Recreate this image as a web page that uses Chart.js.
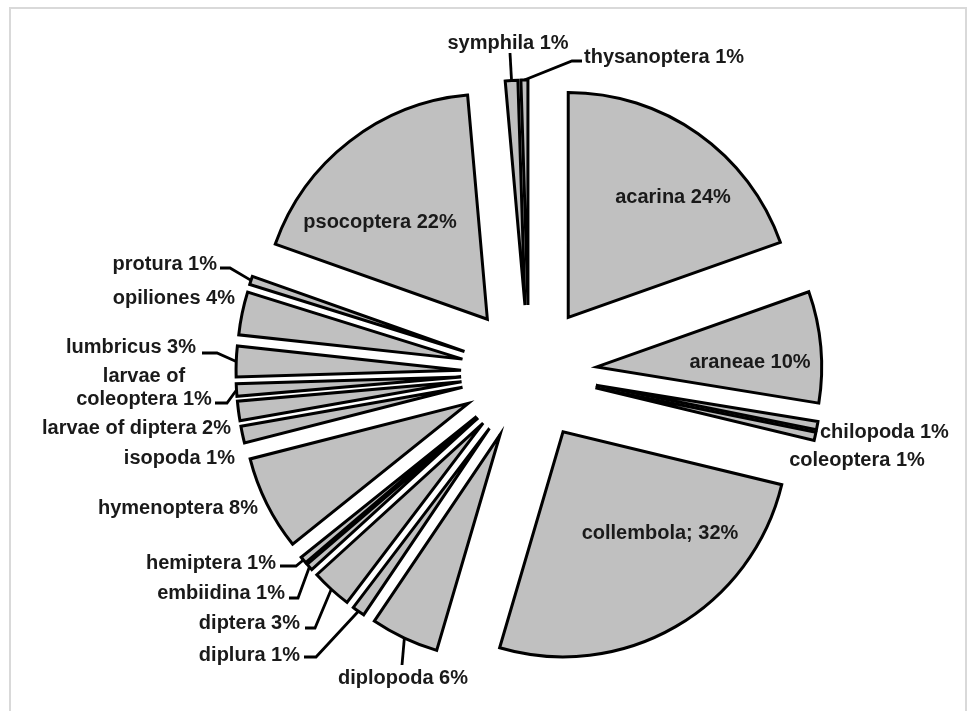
<!DOCTYPE html>
<html>
<head>
<meta charset="utf-8">
<title>Soil fauna</title>
<script src="https://cdn.jsdelivr.net/npm/chart.js@4.4.1/dist/chart.umd.min.js"></script>
<style>
  html, body { margin: 0; padding: 0; background: #fff; }
  #wrap { position: relative; width: 974px; height: 711px; overflow: hidden; }
  #frame { position: absolute; left: 9px; top: 7px; width: 958px; height: 720px;
           border: 2px solid #d9d9d9; box-sizing: border-box; pointer-events: none; }
</style>
</head>
<body>
<div id="wrap">
  <canvas id="pie" width="974" height="711"></canvas>
  <div id="frame"></div>
</div>
<script>
// groups, in the order they go round the pie (clockwise from the top)
const groups = ['acarina', 'araneae', 'chilopoda', 'coleoptera', 'collembola',
  'diplopoda', 'diplura', 'diptera', 'embiidina', 'hemiptera', 'hymenoptera',
  'isopoda', 'larvae of diptera', 'larvae of coleoptera', 'lumbricus',
  'opiliones', 'protura', 'psocoptera', 'symphila', 'thysanoptera'];

// size of each slice (share of the circle, %)
const sliceShare = [19.6, 8.0, 0.6, 0.6, 25.8, 4.9, 0.9, 2.9, 0.5, 0.5,
  6.8, 1.2, 1.4, 0.9, 2.2, 3.1, 0.6, 18.2, 0.9, 0.5];

// percentages as printed on the labels
const printedPct = [24, 10, 1, 1, 32, 6, 1, 3, 1, 1, 8, 1, 2, 1, 3, 4, 1, 22, 1, 1];

const EXPLODE = 68;     // distance every slice is pulled out
const FONT = 'bold 20px "Liberation Sans", Arial, sans-serif';

// where the labels sit (x, y, alignment) and the fixed part of leader lines
const labelLayout = {
  'acarina':              { x: 673, y: 197, align: 'center' },
  'araneae':              { x: 750, y: 362, align: 'center' },
  'chilopoda':            { x: 820, y: 432, align: 'left' },
  'coleoptera':           { x: 857, y: 460, align: 'center' },
  'collembola':           { x: 660, y: 533, align: 'center' },
  'diplopoda':            { x: 403, y: 678, align: 'center', leader: [[402, 665]] },
  'diplura':              { x: 300, y: 655, align: 'right', leader: [[304, 657], [316, 657]] },
  'diptera':              { x: 300, y: 623, align: 'right', leader: [[305, 628], [315, 628]] },
  'embiidina':            { x: 285, y: 593, align: 'right', leader: [[289, 598], [298, 598]] },
  'hemiptera':            { x: 276, y: 563, align: 'right', leader: [[280, 566], [296, 566]] },
  'hymenoptera':          { x: 258, y: 508, align: 'right' },
  'isopoda':              { x: 235, y: 458, align: 'right' },
  'larvae of diptera':    { x: 231, y: 428, align: 'right' },
  'larvae of coleoptera': { x: 144, y: 376, align: 'center', leader: [[215, 403], [227, 403]] },
  'lumbricus':            { x: 196, y: 347, align: 'right', leader: [[202, 353], [217, 353]] },
  'opiliones':            { x: 235, y: 298, align: 'right' },
  'protura':              { x: 217, y: 264, align: 'right', leader: [[220, 268], [230, 268]] },
  'psocoptera':           { x: 380, y: 222, align: 'center' },
  'symphila':             { x: 508, y: 43, align: 'center', leader: [[510, 53]] },
  'thysanoptera':         { x: 584, y: 57, align: 'left', leader: [[582, 61], [572, 61]] }
};

function labelText(i) {
  const name = groups[i] === 'larvae of coleoptera' ? 'larvae of\ncoleoptera' : groups[i];
  const sep = groups[i] === 'collembola' ? '; ' : ' ';
  return name + sep + printedPct[i] + '%';
}

// pull every slice out along its middle angle (same distance for all)
const explodePlugin = {
  id: 'explode',
  beforeDatasetDraw(chart, args) {
    const ctx = chart.ctx;
    args.meta.data.forEach(arc => {
      const mid = (arc.startAngle + arc.endAngle) / 2;
      ctx.save();
      ctx.translate(Math.cos(mid) * EXPLODE, Math.sin(mid) * EXPLODE);
      arc.draw(ctx);
      ctx.restore();
    });
    return false;
  }
};

// labels and leader lines
const labelPlugin = {
  id: 'sliceLabels',
  afterDatasetsDraw(chart) {
    const ctx = chart.ctx;
    const arcs = chart.getDatasetMeta(0).data;
    ctx.save();
    ctx.font = FONT;
    ctx.fillStyle = '#1a1a1a';
    ctx.strokeStyle = '#000';
    ctx.lineWidth = 2.8;
    ctx.lineJoin = 'miter';
    arcs.forEach((arc, i) => {
      const lay = labelLayout[groups[i]];
      if (!lay) return;
      if (lay.leader) {
        const mid = (arc.startAngle + arc.endAngle) / 2;
        const r = arc.outerRadius + EXPLODE;
        ctx.beginPath();
        ctx.moveTo(lay.leader[0][0], lay.leader[0][1]);
        lay.leader.slice(1).forEach(p => ctx.lineTo(p[0], p[1]));
        ctx.lineTo(arc.x + Math.cos(mid) * r, arc.y + Math.sin(mid) * r);
        ctx.stroke();
      }
      ctx.textAlign = lay.align;
      ctx.textBaseline = 'middle';
      labelText(i).split('\n').forEach((line, k) => {
        ctx.fillText(line, lay.x, lay.y + k * 23);
      });
    });
    ctx.restore();
  }
};

new Chart(document.getElementById('pie'), {
  type: 'pie',
  data: {
    labels: groups,
    datasets: [{
      data: sliceShare,
      backgroundColor: '#c0c0c0',
      borderColor: '#000',
      borderWidth: 3,
      borderJoinStyle: 'miter',
      radius: 225
    }]
  },
  options: {
    responsive: false,
    animation: false,
    events: [],
    layout: { padding: { left: 94, right: 10, top: 45, bottom: 10 } },
    plugins: {
      legend: { display: false },
      tooltip: { enabled: false }
    }
  },
  plugins: [explodePlugin, labelPlugin]
});
</script>
</body>
</html>
